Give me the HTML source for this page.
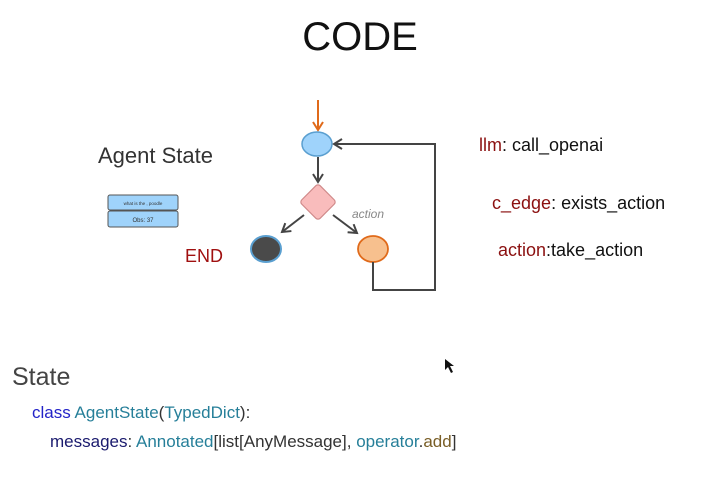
<!DOCTYPE html>
<html><head><style>
body{margin:0;width:709px;height:486px;background:#fff;overflow:hidden;position:relative;font-family:"Liberation Sans",sans-serif}
.t{position:absolute;white-space:nowrap;line-height:1}
</style></head><body>
<div class="t" style="left:0;width:720px;text-align:center;top:17px;font-size:40px;color:#111">CODE</div>
<div class="t" style="left:98px;top:145px;font-size:22px;color:#333">Agent State</div>
<div class="t" style="left:185px;top:247px;font-size:18px;color:#a01010">END</div>
<div class="t" style="left:479px;top:136px;font-size:18px;color:#111"><span style="color:#8b1010">llm</span>: call_openai</div>
<div class="t" style="left:492px;top:194px;font-size:18px;color:#111"><span style="color:#8b1010">c_edge</span>: exists_action</div>
<div class="t" style="left:498px;top:241px;font-size:18px;color:#111"><span style="color:#8b1010">action</span>:take_action</div>
<svg style="position:absolute;left:0;top:0" width="709" height="486">
<defs><marker id="a" markerUnits="userSpaceOnUse" markerWidth="12" markerHeight="12" refX="9" refY="6" orient="auto"><path d="M1,1 L9,6 L1,11" fill="none" stroke="#444" stroke-width="2"/></marker>
<marker id="o" markerUnits="userSpaceOnUse" markerWidth="12" markerHeight="12" refX="9" refY="6" orient="auto"><path d="M1,1 L9,6 L1,11" fill="none" stroke="#e06a1a" stroke-width="2"/></marker></defs>
<line x1="318" y1="100" x2="318" y2="130" stroke="#e06a1a" stroke-width="2" marker-end="url(#o)"/>
<ellipse cx="317" cy="144" rx="15" ry="12" fill="#9fd3fb" stroke="#5a9fd0" stroke-width="1.5"/>
<line x1="318" y1="157" x2="318" y2="182" stroke="#444" stroke-width="2" marker-end="url(#a)"/>
<rect x="305" y="189" width="26" height="26" rx="3" transform="rotate(45 318 202)" fill="#f9bcbc" stroke="#d08a8a" stroke-width="1.2"/>
<line x1="304" y1="215" x2="282" y2="232" stroke="#444" stroke-width="2" marker-end="url(#a)"/>
<line x1="333" y1="215" x2="357" y2="233" stroke="#444" stroke-width="2" marker-end="url(#a)"/>
<text x="352" y="218" font-size="12" font-style="italic" fill="#888" font-family="Liberation Sans">action</text>
<ellipse cx="266" cy="249" rx="15" ry="13" fill="#4a4a4a" stroke="#5a9fd0" stroke-width="2"/>
<ellipse cx="373" cy="249" rx="15" ry="13" fill="#f7c08e" stroke="#e06a1a" stroke-width="1.8"/>
<polyline points="373,262 373,290 435,290 435,144 334,144" fill="none" stroke="#444" stroke-width="2" marker-end="url(#a)"/>
<rect x="108" y="195" width="70" height="15" rx="2" fill="#9fd3fb" stroke="#555" stroke-width="1"/>
<rect x="108" y="211" width="70" height="16" rx="2" fill="#9fd3fb" stroke="#555" stroke-width="1"/>
<text x="143" y="205" font-size="4.5" text-anchor="middle" fill="#333" font-family="Liberation Sans">what is the , poodle</text>
<text x="143" y="222" font-size="6" text-anchor="middle" fill="#333" font-family="Liberation Sans">Obs: 37</text>
<path d="M445,359 L445,370 L448,367 L451,373 L453,372 L450,366 L454,366 Z" fill="#111"/>
</svg>
<div class="t" style="left:12px;top:365px;font-size:25px;color:#444">State</div>
<div class="t" style="left:32px;top:404px;font-size:17px;color:#333"><span style="color:#2323c8">class</span> <span style="color:#267f99">AgentState</span>(<span style="color:#267f99">TypedDict</span>):</div>
<div class="t" style="left:50px;top:433px;font-size:17px;color:#333"><span style="color:#1a1a6e">messages</span>: <span style="color:#267f99">Annotated</span>[list[AnyMessage], <span style="color:#267f99">operator</span>.<span style="color:#795e26">add</span>]</div>
</body></html>
